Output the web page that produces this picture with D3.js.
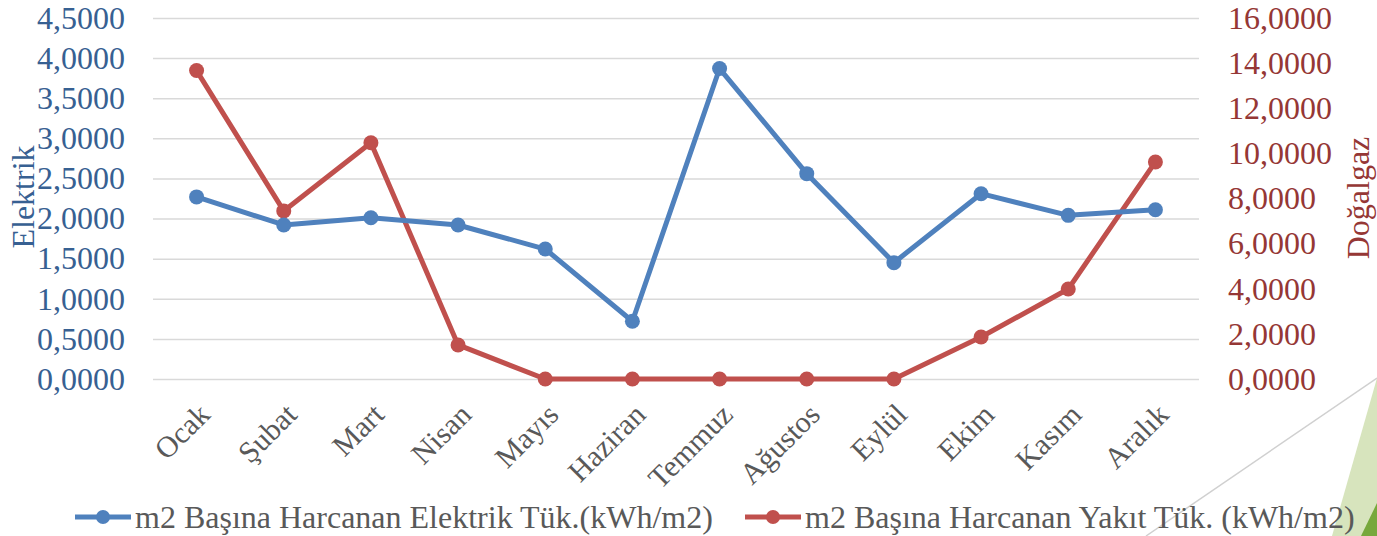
<!DOCTYPE html>
<html>
<head>
<meta charset="utf-8">
<script src="https://cdn.jsdelivr.net/npm/d3@7"></script>
<style>
  html, body { margin: 0; padding: 0; background: #fff; overflow: hidden; }
  svg { display: block; font-family: "Liberation Serif", "Times New Roman", serif; }
  svg text { font-family: "Liberation Serif", "Times New Roman", serif; }
</style>
</head>
<body>
<div class="chart"></div>
<script>
var months = ['Ocak', 'Şubat', 'Mart', 'Nisan', 'Mayıs', 'Haziran', 'Temmuz', 'Ağustos', 'Eylül', 'Ekim', 'Kasım', 'Aralık'];
var elektrik = [2.27, 1.92, 2.01, 1.92, 1.62, 0.72, 3.87, 2.56, 1.45, 2.31, 2.04, 2.11];
var dogalgaz = [13.67, 7.45, 10.47, 1.51, 0, 0, 0, 0, 0, 1.86, 3.99, 9.62];
var leftTicks = [0, 0.5, 1, 1.5, 2, 2.5, 3, 3.5, 4, 4.5];
var rightTicks = [0, 2, 4, 6, 8, 10, 12, 14, 16];
var seriesNames = ['m2 Başına Harcanan Elektrik Tük.(kWh/m2)', 'm2 Başına Harcanan Yakıt Tük. (kWh/m2)'];

var W = 1377, H = 536;
var plot = { left: 153, right: 1199, top: 18, bottom: 379 };
var blue = '#4f81bd', red = '#c0504d';

var trFormat = d3.formatLocale({ decimal: ',', thousands: '.', grouping: [3], currency: ['', ''] }).format('.4f');

var svg = d3.select('.chart')
    .append('svg')
    .attr('width', W)
    .attr('height', H);

// decoration in the bottom right corner
svg.append('line')
    .attr('x1', 1146).attr('y1', 536).attr('x2', 1377).attr('y2', 378)
    .style('stroke', '#d0d0d0').style('stroke-width', 1.5);
svg.append('path')
    .attr('d', 'M1332,536 L1377,378 L1377,536 Z')
    .style('fill', '#d7e4bd');
svg.append('path')
    .attr('d', 'M1361,536 L1377,503 L1377,536 Z')
    .style('fill', '#77a83c');

var xScale = d3.scalePoint()
    .domain(months)
    .range([plot.left, plot.right])
    .padding(0.5);

var yLeft = d3.scaleLinear()
    .domain([0, 4.5])
    .range([plot.bottom, plot.top]);

var yRight = d3.scaleLinear()
    .domain([0, 16])
    .range([plot.bottom, plot.top]);

// gridlines + left labels
var leftAxis = svg.append('g')
    .attr('transform', 'translate(' + plot.left + ',0)')
    .call(d3.axisLeft(yLeft).tickValues(leftTicks).tickFormat(trFormat)
        .tickSize(-(plot.right - plot.left)).tickPadding(28))
    .attr('font-family', null).attr('font-size', null);
leftAxis.select('.domain').remove();
leftAxis.selectAll('line').style('stroke', '#d9d9d9').style('stroke-width', 1.5);
leftAxis.selectAll('text')
    .style('font-size', '32px').style('fill', '#376092');

var rightAxis = svg.append('g')
    .attr('transform', 'translate(' + plot.right + ',0)')
    .call(d3.axisRight(yRight).tickValues(rightTicks).tickFormat(trFormat)
        .tickSize(0).tickPadding(29))
    .attr('font-family', null).attr('font-size', null);
rightAxis.select('.domain').remove();
rightAxis.selectAll('text')
    .style('font-size', '32px').style('fill', '#953735');

// category labels
var xAxis = svg.append('g')
    .attr('transform', 'translate(0,' + plot.bottom + ')')
    .call(d3.axisBottom(xScale).tickSize(0))
    .attr('font-family', null).attr('font-size', null);
xAxis.select('.domain').remove();
xAxis.selectAll('text')
    .attr('y', 0).attr('dy', '0.35em')
    .attr('transform', 'translate(7,30) rotate(-45)')
    .style('text-anchor', 'end')
    .style('font-size', '30px').style('fill', '#595959');

// axis titles
svg.append('text')
    .attr('transform', 'translate(23,197) rotate(-90)')
    .attr('dy', '0.35em')
    .style('text-anchor', 'middle')
    .style('font-size', '32px').style('fill', '#376092')
    .text('Elektrik');

svg.append('text')
    .attr('transform', 'translate(1358,198) rotate(-90)')
    .attr('dy', '0.35em')
    .style('text-anchor', 'middle')
    .style('font-size', '32px').style('fill', '#953735')
    .text('Doğalgaz');

// series
function drawSeries(values, yScale, color) {
    var line = d3.line()
        .x((d, i) => xScale(months[i]))
        .y(d => yScale(d));
    svg.append('path')
        .datum(values)
        .attr('d', line)
        .style('fill', 'none')
        .style('stroke', color)
        .style('stroke-width', 5)
        .style('stroke-linejoin', 'round');
    svg.append('g').selectAll('circle')
        .data(values)
        .enter()
        .append('circle')
        .attr('cx', (d, i) => xScale(months[i]))
        .attr('cy', d => yScale(d))
        .attr('r', 7.5)
        .style('fill', color);
}
drawSeries(dogalgaz, yRight, red);
drawSeries(elektrik, yLeft, blue);

// legend
var legendItems = [
    { name: seriesNames[0], color: blue, x: 75 },
    { name: seriesNames[1], color: red, x: 745 }
];
var legend = svg.append('g').selectAll('g')
    .data(legendItems)
    .enter()
    .append('g')
    .attr('transform', d => 'translate(' + d.x + ',517)');
legend.append('line')
    .attr('x1', 0).attr('x2', 56)
    .style('stroke', d => d.color).style('stroke-width', 5);
legend.append('circle')
    .attr('cx', 28).attr('r', 7)
    .style('fill', d => d.color);
legend.append('text')
    .attr('x', 60).attr('dy', '0.35em')
    .style('font-size', '32px').style('fill', '#595959')
    .text(d => d.name);
</script>
</body>
</html>
